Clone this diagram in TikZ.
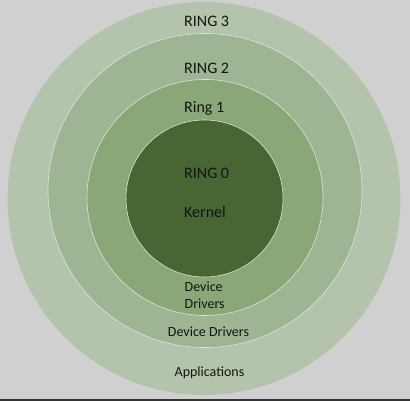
\documentclass[tikz,border=0pt]{standalone}
\usepackage{fontspec}
\setmainfont{Carlito}
\usetikzlibrary{calc}

\definecolor{bg}{HTML}{D0D0D0}
\definecolor{ringthree}{HTML}{B4C4AC}
\definecolor{ringtwo}{HTML}{9FB493}
\definecolor{ringone}{HTML}{89A777}
\definecolor{ringzero}{HTML}{476633}

\begin{document}
\begin{tikzpicture}[x=1pt,y=-1pt]
  \tikzset{ring/.style={draw=white!55!ringthree,line width=0.6pt},
           lbl/.style={font=\fontsize{16}{19}\selectfont,text=black!92,inner sep=0pt,anchor=base west},
           sublbl/.style={lbl,font=\fontsize{14}{17}\selectfont,anchor=base}};
  \useasboundingbox (0,0) rectangle (410,401);
  \fill[bg] (0,0) rectangle (410,401);
  \fill[black!80] (0,399) rectangle (410,401);
  \coordinate (C3) at (204,198.5);
  \coordinate (C2) at (205,190.5);
  \coordinate (C1) at (205,197.5);
  \coordinate (C0) at (204.5,198.5);
  \fill[ringthree] (C3) circle (196.5pt);
  \fill[ringtwo,ring] (C2) circle (157pt);
  \fill[ringone,ring] (C1) circle (118pt);
  \fill[ringzero,ring] (C0) circle (78.5pt);
  \node[lbl] (r3) at (184,26.7) {RING 3};
  \node[lbl] (r2) at (184,74) {RING 2};
  \node[lbl] (r1) at (184,112.3) {Ring 1};
  \node[lbl] (r0) at (184,178.3) {RING 0};
  \node[lbl] (kern) at (184,217.3) {Kernel};
  \node[lbl,font=\fontsize{14}{17}\selectfont] (dev) at (184.5,291.7) {Device};
  \node[lbl,font=\fontsize{14}{17}\selectfont] (drv) at (184.5,308.3) {Drivers};
  \node[sublbl] (dd) at (208.5,336.7) {Device Drivers};
  \node[sublbl] (app) at (209.5,376) {Applications};
\end{tikzpicture}
\end{document}
